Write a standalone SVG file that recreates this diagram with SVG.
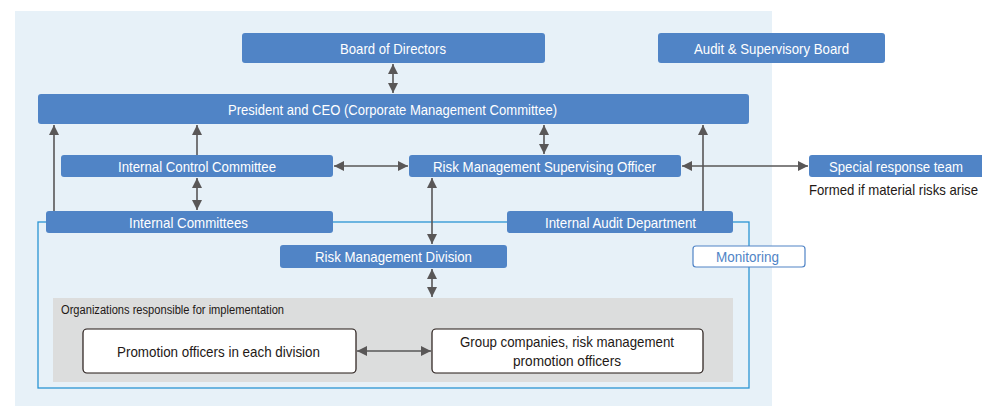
<svg xmlns="http://www.w3.org/2000/svg" width="982" height="406" viewBox="0 0 982 406">
<defs>
<marker id="ah" viewBox="0 0 10 10" refX="10" refY="5" markerWidth="10" markerHeight="10" markerUnits="userSpaceOnUse" orient="auto-start-reverse">
<path d="M0,0 L10,5 L0,10 Z" fill="#595757"/>
</marker>
<style>
.b{fill:#5084c6;}
.t{font-family:"Liberation Sans",Arial,sans-serif;font-size:15px;fill:#fff;text-anchor:middle;}
.d{font-family:"Liberation Sans",Arial,sans-serif;font-size:15px;fill:#231815;text-anchor:middle;}
.c{stroke:#595757;stroke-width:1.6;fill:none;}
.w{fill:#fff;stroke:#231815;stroke-width:1.2;}
</style>
</defs>
<rect x="15" y="11" width="757" height="395" fill="#e7f1f8"/>
<rect x="38" y="222" width="711" height="166" fill="none" stroke="#2a95d3" stroke-width="1.3"/>
<rect x="53" y="298" width="680" height="84" fill="#dcdddd"/>
<text x="61" y="314" font-family="&quot;Liberation Sans&quot;,Arial,sans-serif" font-size="12" fill="#231815" textLength="223" lengthAdjust="spacingAndGlyphs">Organizations responsible for implementation</text>
<g id="connectors">
<line class="c" x1="393" y1="64" x2="393" y2="93" marker-start="url(#ah)" marker-end="url(#ah)"/>
<line class="c" x1="54" y1="211" x2="54" y2="125" marker-end="url(#ah)"/>
<line class="c" x1="197" y1="155" x2="197" y2="125" marker-end="url(#ah)"/>
<line class="c" x1="197" y1="178" x2="197" y2="210" marker-start="url(#ah)" marker-end="url(#ah)"/>
<line class="c" x1="544" y1="125" x2="544" y2="154" marker-start="url(#ah)" marker-end="url(#ah)"/>
<line class="c" x1="703" y1="211" x2="703" y2="125" marker-end="url(#ah)"/>
<line class="c" x1="334" y1="166" x2="408" y2="166" marker-start="url(#ah)" marker-end="url(#ah)"/>
<line class="c" x1="682" y1="166" x2="808" y2="166" marker-start="url(#ah)" marker-end="url(#ah)"/>
<line class="c" x1="432" y1="178" x2="432" y2="244" marker-start="url(#ah)" marker-end="url(#ah)"/>
<line class="c" x1="432" y1="269" x2="432" y2="297" marker-start="url(#ah)" marker-end="url(#ah)"/>
<line class="c" x1="357" y1="351" x2="431" y2="351" marker-start="url(#ah)" marker-end="url(#ah)"/>
</g>
<g id="board"><rect class="b" x="242" y="33" width="303" height="30" rx="3"/><text class="t" x="393" y="54" textLength="106" lengthAdjust="spacingAndGlyphs">Board of Directors</text></g>
<g id="audit-board"><rect class="b" x="658" y="33" width="227" height="30" rx="3"/><text class="t" x="771.5" y="54" textLength="155" lengthAdjust="spacingAndGlyphs">Audit &amp; Supervisory Board</text></g>
<g id="president"><rect class="b" x="38" y="94" width="711" height="30" rx="3"/><text class="t" x="392.5" y="115" textLength="329" lengthAdjust="spacingAndGlyphs">President and CEO (Corporate Management Committee)</text></g>
<g id="icc"><rect class="b" x="61" y="155" width="272" height="22" rx="3"/><text class="t" x="197" y="171.5" textLength="158" lengthAdjust="spacingAndGlyphs">Internal Control Committee</text></g>
<g id="rmso"><rect class="b" x="409" y="155" width="272" height="22" rx="3"/><text class="t" x="544.5" y="171.5" textLength="223" lengthAdjust="spacingAndGlyphs">Risk Management Supervising Officer</text></g>
<g id="special"><rect class="b" x="809" y="155" width="180" height="22" rx="3"/><text class="t" x="896" y="171.5" textLength="134" lengthAdjust="spacingAndGlyphs">Special response team</text><text class="d" x="809" y="195" style="text-anchor:start" textLength="169" lengthAdjust="spacingAndGlyphs">Formed if material risks arise</text></g>
<g id="internal-committees"><rect class="b" x="46" y="211" width="287" height="22" rx="3"/><text class="t" x="188.5" y="227.5" textLength="119" lengthAdjust="spacingAndGlyphs">Internal Committees</text></g>
<g id="iad"><rect class="b" x="507" y="211" width="226" height="22" rx="3"/><text class="t" x="620.5" y="227.5" textLength="151" lengthAdjust="spacingAndGlyphs">Internal Audit Department</text></g>
<g id="rmd"><rect class="b" x="280" y="245" width="227" height="23" rx="3"/><text class="t" x="393.5" y="261.5" textLength="157" lengthAdjust="spacingAndGlyphs">Risk Management Division</text></g>
<g id="monitoring"><rect x="693" y="246" width="112" height="21" rx="3" fill="#fff" stroke="#5084c6" stroke-width="1.2"/><text class="t" x="747.5" y="262" style="fill:#5084c6" textLength="63" lengthAdjust="spacingAndGlyphs">Monitoring</text></g>
<g id="promotion"><rect class="w" x="83" y="329" width="273" height="44" rx="4"/><text class="d" x="218.5" y="357" textLength="203" lengthAdjust="spacingAndGlyphs">Promotion officers in each division</text></g>
<g id="group"><rect class="w" x="432" y="329" width="271" height="44" rx="4"/><text class="d" x="567" y="347" textLength="214" lengthAdjust="spacingAndGlyphs">Group companies, risk management</text><text class="d" x="567" y="366" textLength="108" lengthAdjust="spacingAndGlyphs">promotion officers</text></g>
</svg>
